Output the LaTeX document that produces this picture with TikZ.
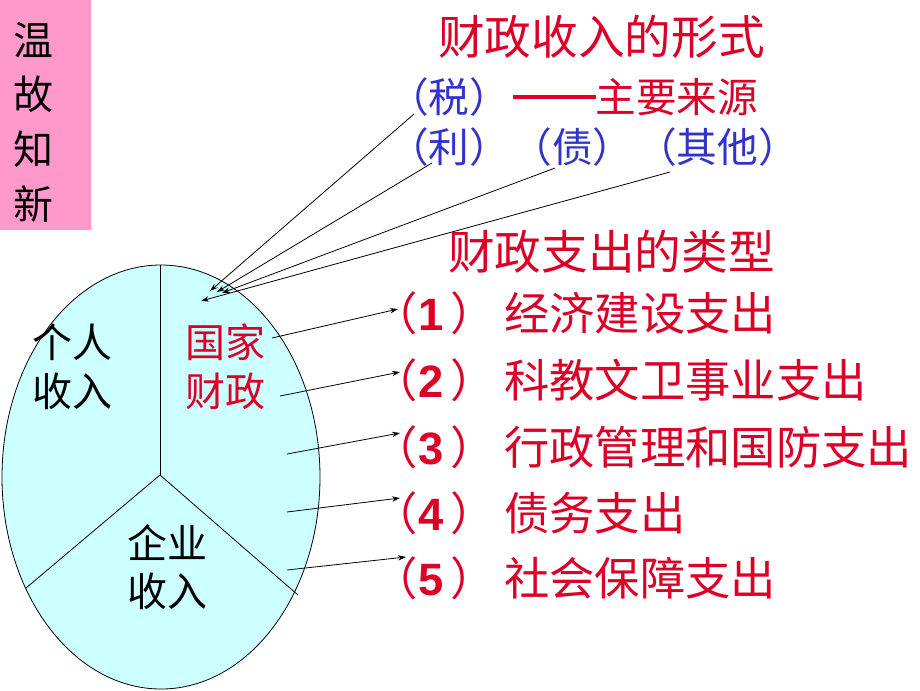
\documentclass[tikz,border=0pt]{standalone}
\usepackage{fontspec}
\setmainfont{Liberation Sans}
\newfontfamily\cjk{Noto Sans CJK SC}
\newfontfamily\digitf{Liberation Sans}
\usetikzlibrary{arrows.meta}
\definecolor{pinkbg}{RGB}{255,153,204}
\definecolor{cyanbg}{RGB}{204,255,255}
\definecolor{txtred}{RGB}{220,0,40}
\definecolor{txtblue}{RGB}{51,51,204}
\newcommand{\dg}[1]{{\digitf\bfseries #1}}
\newcommand{\itm}[2]{（\hspace{1pt}\dg{#1}\hspace{5pt}）\hspace{6pt}#2}
\begin{document}
\begin{tikzpicture}[x=0.75pt,y=-0.75pt,
  conn/.style={-{Stealth[length=6pt,width=4pt]}, line width=0.6pt},
  divline/.style={line width=0.6pt},
  black30/.style={font=\cjk\fontsize{30}{41}\selectfont, text=black, align=center, inner sep=0pt},
  pielabel/.style={font=\cjk\fontsize{30}{36.5}\selectfont, align=center, inner sep=0pt},
  title/.style={font=\cjk\fontsize{35}{40}\selectfont, text=txtred, anchor=west, inner sep=0pt},
  bluerow/.style={font=\cjk\fontsize{30.5}{36}\selectfont, text=txtblue, anchor=west, inner sep=0pt},
  item/.style={font=\cjk\fontsize{34}{40}\selectfont, text=txtred, anchor=west, inner sep=0pt}]
\useasboundingbox (0,0) rectangle (920,690);
\fill[white] (0,0) rectangle (920,690);
% pink label box
\fill[pinkbg] (0,0) rectangle (91,230);
\node[black30] (wgzx) at (33,122) {温\\故\\知\\新};
% pie ellipse
\draw[fill=cyanbg, line width=0.6pt] (161,477) ellipse [x radius=119.25pt, y radius=159pt];
\coordinate (ctr) at (160,475);
\coordinate (ptop) at (160,265);
\coordinate (pll) at (26,588);
\coordinate (plr) at (298,595);
\draw[divline] (ptop) -- (ctr);
\draw[divline] (ctr) -- (pll);
\draw[divline] (ctr) -- (plr);
\node[pielabel, text=black] (geren) at (72,367) {个人\\收入};
\node[pielabel, text=txtred] (guojia) at (225,367) {国家\\财政};
\node[pielabel, text=black] (qiye) at (167,567) {企业\\收入};
% revenue forms
\node[title] (t1) at (438,37) {财政收入的形式};
\node[bluerow] (r1) at (388,97) {（税）\hspace{2pt}\textcolor{txtred}{\rule[0.32em]{62pt}{3.2pt}主要来源}};
\node[bluerow] (r2) at (388,147) {（利）\hspace{1pt}（债）\hspace{2pt}（其他）};
\coordinate (s1) at (414,114);
\coordinate (s2) at (432,163);
\coordinate (s3) at (555,168);
\coordinate (s4) at (670,172);
\coordinate (e1) at (210,291);
\coordinate (e2) at (217,292);
\coordinate (e3) at (222,293);
\coordinate (e4) at (201,301);
\draw[conn] (s1) -- (e1);
\draw[conn] (s2) -- (e2);
\draw[conn] (s3) -- (e3);
\draw[conn] (s4) -- (e4);
% expenditure types
\node[title] (t2) at (448,252) {财政支出的类型};
\node[item] (i1) at (372,313) {\itm{1}{经济建设支出}};
\node[item] (i2) at (372,380) {\itm{2}{科教文卫事业支出}};
\node[item] (i3) at (372,447) {\itm{3}{行政管理和国防支出}};
\node[item] (i4) at (372,513) {\itm{4}{债务支出}};
\node[item] (i5) at (372,578) {\itm{5}{社会保障支出}};
\coordinate (o1) at (272,338);
\coordinate (o2) at (280,396);
\coordinate (o3) at (287,454);
\coordinate (o4) at (287,512);
\coordinate (o5) at (287,570);
\coordinate (a1) at (398,309);
\coordinate (a2) at (400,372);
\coordinate (a3) at (400,433);
\coordinate (a4) at (400,498);
\coordinate (a5) at (406,557);
\draw[conn] (o1) -- (a1);
\draw[conn] (o2) -- (a2);
\draw[conn] (o3) -- (a3);
\draw[conn] (o4) -- (a4);
\draw[conn] (o5) -- (a5);
\end{tikzpicture}
\end{document}
